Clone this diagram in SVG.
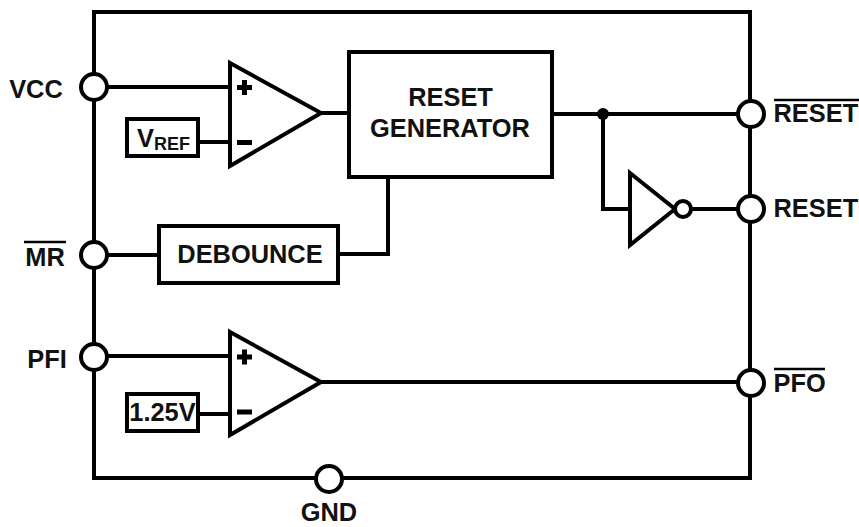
<svg xmlns="http://www.w3.org/2000/svg" width="859" height="527" viewBox="0 0 859 527">
<style>
.w{fill:none;stroke:#000;stroke-width:4;stroke-linejoin:miter;stroke-linecap:square}
.b{fill:#fff;stroke:#000;stroke-width:4}
.p{fill:#fff;stroke:#000;stroke-width:4}
.t{font-family:"Liberation Sans",Arial,sans-serif;font-weight:700;font-size:25.400px;fill:#111}
.o{stroke:#000;stroke-width:2.5;fill:none}
.s{stroke:#000;stroke-width:5;fill:none}
</style>
<rect width="859" height="527" fill="#fff"/>
<g id="connectors">
<path class="w" d="M94 12H750V478H94Z"/>
<path class="w" d="M108 87H230M198 142H230M322 113H349M552 114H737M603 114V209H630M692 209H737M173 255H108M338 254H388V177M108 356H230M198 414H230M322 382H737"/>
<circle cx="603" cy="114" r="6" fill="#000"/>
</g>
<g id="comp1"><path class="b" d="M230 63L321 113L230 166Z"/><path class="s" d="M237 87.500H252M244.500 80V95M237 142.500H252"/></g>
<g id="comp2"><path class="b" d="M230 332L321 382L230 435Z"/><path class="s" d="M237 357H252M244.500 349.500V364.500M237 412H252"/></g>
<g id="vref"><rect class="b" x="127" y="119" width="71" height="37"/><text class="t" x="137" y="147">V<tspan font-size="18" dy="3">REF</tspan></text></g>
<g id="v125"><rect class="b" x="127" y="394" width="71" height="37"/><text class="t" x="162.500" y="421" text-anchor="middle">1.25V</text></g>
<g id="generator"><rect class="b" x="349" y="52" width="203" height="125"/><text class="t" x="450.500" y="106" text-anchor="middle">RESET</text><text class="t" x="450" y="137" text-anchor="middle">GENERATOR</text></g>
<g id="debounce"><rect class="b" x="159" y="226" width="179" height="57"/><text class="t" x="250" y="263" text-anchor="middle">DEBOUNCE</text></g>
<g id="inverter"><path class="b" d="M630 173L675 209L630 245Z"/><circle class="b" cx="683" cy="209" r="8"/></g>
<g id="pin-vcc"><circle class="p" cx="94" cy="87" r="13"/><text class="t" x="36" y="98" text-anchor="middle">VCC</text></g>
<g id="pin-mr"><circle class="p" cx="94" cy="255" r="13"/><path class="o" d="M24 242H66"/><text class="t" x="45" y="266" text-anchor="middle">MR</text></g>
<g id="pin-pfi"><circle class="p" cx="94" cy="357" r="13"/><text class="t" x="47" y="368" text-anchor="middle">PFI</text></g>
<g id="pin-gnd"><circle class="p" cx="329" cy="479" r="13"/><text class="t" x="329" y="521" text-anchor="middle">GND</text></g>
<g id="pin-nreset"><circle class="p" cx="751" cy="114" r="13"/><path class="o" d="M774 100H859"/><text class="t" x="773.500" y="122">RESET</text></g>
<g id="pin-reset"><circle class="p" cx="751" cy="209" r="13"/><text class="t" x="773.500" y="217">RESET</text></g>
<g id="pin-pfo"><circle class="p" cx="751" cy="383" r="13"/><path class="o" d="M774 369H825"/><text class="t" x="773.500" y="392">PFO</text></g>
</svg>
